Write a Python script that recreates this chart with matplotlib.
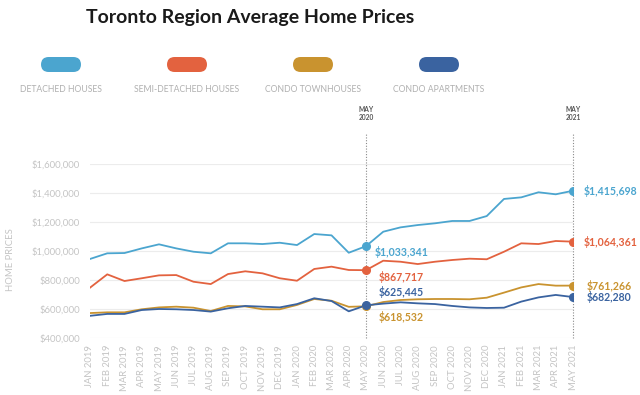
import matplotlib
matplotlib.use("Agg")
import matplotlib.pyplot as plt
from matplotlib.patches import FancyBboxPatch
from matplotlib.ticker import FuncFormatter

months = ["JAN 2019", "FEB 2019", "MAR 2019", "APR 2019", "MAY 2019", "JUN 2019",
          "JUL 2019", "AUG 2019", "SEP 2019", "OCT 2019", "NOV 2019", "DEC 2019",
          "JAN 2020", "FEB 2020", "MAR 2020", "APR 2020", "MAY 2020", "JUN 2020",
          "JUL 2020", "AUG 2020", "SEP 2020", "OCT 2020", "NOV 2020", "DEC 2020",
          "JAN 2021", "FEB 2021", "MAR 2021", "APR 2021", "MAY 2021"]

detached = [945000, 984000, 986000, 1018000, 1046000, 1018000, 995000, 984000, 1053000,
            1053000, 1048000, 1057000, 1041000, 1117000, 1108000, 988000, 1033341, 1133000,
            1163000, 1179000, 1191000, 1207000, 1207000, 1241000, 1359000, 1370000, 1405000,
            1391000, 1415698]
semi = [747000, 839000, 793000, 812000, 832000, 834000, 788000, 772000, 841000,
        860000, 846000, 812000, 795000, 876000, 892000, 869000, 867717, 933000,
        926000, 910000, 926000, 938000, 947000, 943000, 995000, 1053000, 1048000,
        1069000, 1064361]
townhouse = [572000, 577000, 577000, 598000, 611000, 616000, 609000, 586000, 621000,
             618000, 598000, 598000, 628000, 669000, 657000, 615000, 618532, 648000,
             662000, 667000, 669000, 669000, 667000, 678000, 713000, 749000, 772000,
             761000, 761266]
apartments = [553000, 566000, 566000, 593000, 600000, 598000, 593000, 582000, 605000,
              621000, 616000, 611000, 634000, 674000, 655000, 584000, 625445, 637000,
              646000, 639000, 634000, 621000, 611000, 607000, 609000, 651000, 680000,
              697000, 682280]

series_names = ["DETACHED HOUSES", "SEMI-DETACHED HOUSES", "CONDO TOWNHOUSES", "CONDO APARTMENTS"]
colors = ["#4BA5CF", "#E3623F", "#C9932F", "#3A63A0"]
highlight_idx = [16, 28]
highlight_labels = ["MAY\n2020", "MAY\n2021"]
yticks = [400000, 600000, 800000, 1000000, 1200000, 1400000, 1600000]

plt.rcParams['font.family'] = ['Lato', 'DejaVu Sans']

fig = plt.figure(figsize=(6.4, 3.95), dpi=100)
fig.patch.set_facecolor("white")

W, H = 640, 395
ax = fig.add_axes([90 / W, 1 - 338 / H, (573 - 90) / W, (338 - 164) / H])

x = list(range(len(months)))
data = [detached, semi, townhouse, apartments]
for vals, c in zip(data, colors):
    ax.plot(x, vals, color=c, lw=1.3, zorder=3, solid_joinstyle='round')
    for i in highlight_idx:
        ax.plot(x[i], vals[i], 'o', color=c, ms=5.5, zorder=4)

ax.set_xlim(0, len(months) - 1)
ax.set_ylim(yticks[0], yticks[-1])
ax.set_yticks(yticks)
ax.yaxis.set_major_formatter(FuncFormatter(lambda v, p: "${:,.0f}".format(v)))
ax.set_xticks(x)
ax.set_xticklabels(months, rotation=90, fontsize=6.8, color="#c4c4c4")
ax.tick_params(axis='y', labelsize=6.8, labelcolor="#c4c4c4", length=0, pad=7)
ax.tick_params(axis='x', length=0, pad=5)
ax.grid(axis='y', color="#ececec", lw=0.8)
ax.set_axisbelow(True)
for s in ax.spines.values():
    s.set_visible(False)
ax.set_ylabel("HOME PRICES", fontsize=6.8, color="#c4c4c4")
ax.yaxis.set_label_coords(-0.155, 0.45)

# vertical dotted markers
for i, lab in zip(highlight_idx, highlight_labels):
    ax.axvline(x[i], ymin=0, ymax=1.17, color="#8a8a8a", ls=(0, (1, 1.5)), lw=0.8,
               clip_on=False, zorder=2)
    ax.text(x[i], yticks[-1] + 295000, lab, ha='center', va='bottom', fontsize=4.8,
            color="#555555", fontweight='bold', linespacing=1.2)

# value labels
def fmt(v):
    return "${:,.0f}".format(v)

lab_fs = 7.6
# May 2020 labels
ax.text(16.5, detached[16] - 40000, fmt(detached[16]), color=colors[0], fontsize=lab_fs,
        va='center', ha='left', fontweight='bold')
ax.text(16.75, 1e6 - (277 - 251) * 6897, fmt(semi[16]), color=colors[1], fontsize=lab_fs,
        va='center', ha='left', fontweight='bold')
ax.text(16.75, 1e6 - (292 - 251) * 6897, fmt(apartments[16]), color=colors[3], fontsize=lab_fs,
        va='center', ha='left', fontweight='bold')
ax.text(16.75, 1e6 - (317 - 251) * 6897, fmt(townhouse[16]), color=colors[2], fontsize=lab_fs,
        va='center', ha='left', fontweight='bold')
# May 2021 labels
ax.text(28.6, detached[28], fmt(detached[28]), color=colors[0], fontsize=lab_fs,
        va='center', ha='left', fontweight='bold', clip_on=False)
ax.text(28.6, semi[28], fmt(semi[28]), color=colors[1], fontsize=lab_fs,
        va='center', ha='left', fontweight='bold', clip_on=False)
ax.text(28.8, townhouse[28], fmt(townhouse[28]), color=colors[2], fontsize=lab_fs,
        va='center', ha='left', fontweight='bold', clip_on=False)
ax.text(28.8, apartments[28], fmt(apartments[28]), color=colors[3], fontsize=lab_fs,
        va='center', ha='left', fontweight='bold', clip_on=False)

# title
fig.text(250 / W, 1 - 17 / H, "Toronto Region Average Home Prices", ha='center', va='center',
         fontsize=14, fontweight='bold', color="#1a1a1a")

# legend
centers = [61, 187, 313, 439]
for cx, name, c in zip(centers, series_names, colors):
    bw, bh = 40, 15
    patch = FancyBboxPatch(((cx - bw / 2) / W, 1 - 72 / H), bw / W, bh / H,
                           boxstyle="round,pad=0,rounding_size=0.012",
                           transform=fig.transFigure, facecolor=c, edgecolor='none',
                           mutation_aspect=W / H)
    fig.patches.append(patch)
    fig.text(cx / W, 1 - 89 / H, name, ha='center', va='center', fontsize=6.2,
             color="#b0b0b0")

fig.savefig("out.png", dpi=100, facecolor="white")
